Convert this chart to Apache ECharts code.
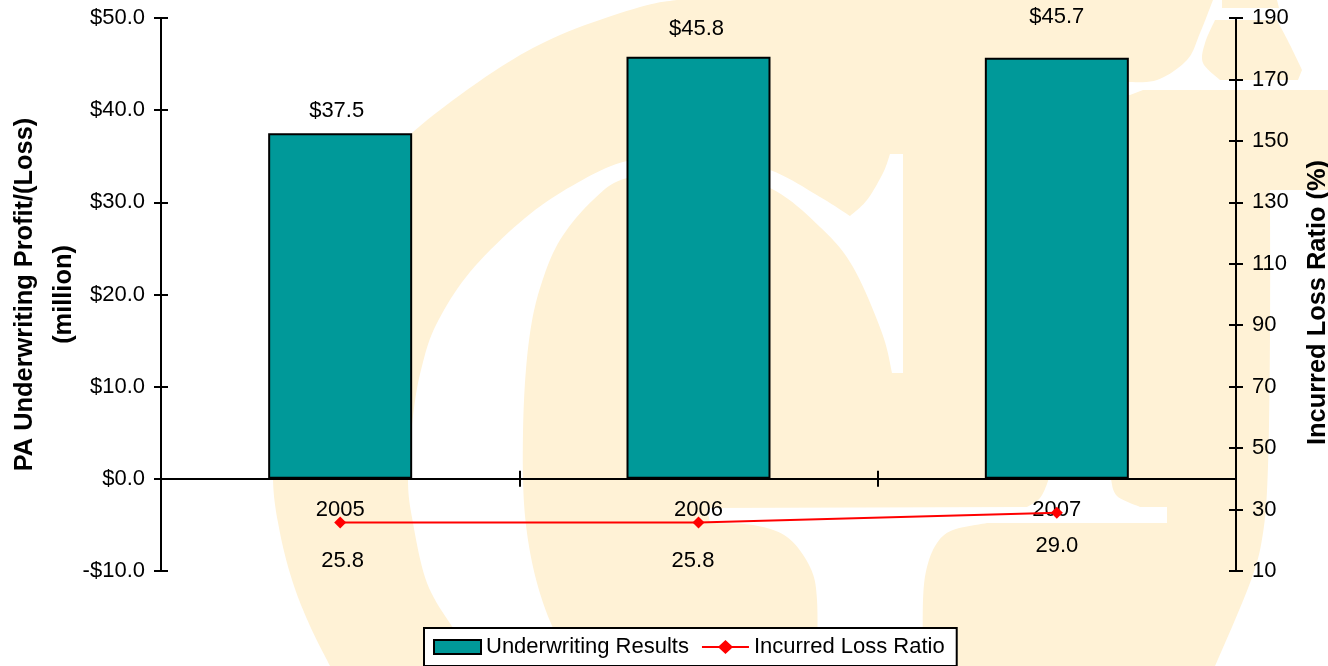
<!DOCTYPE html>
<html>
<head>
<meta charset="utf-8">
<title>PA Underwriting Results</title>
<script src="https://cdn.jsdelivr.net/npm/echarts@6/dist/echarts.min.js"></script>
<style>
  html, body { margin: 0; padding: 0; background: #fff; }
  #chart { width: 1328px; height: 666px; }
</style>
</head>
<body>
<div id="chart"></div>
<script>
// Data
const years = ['2005', '2006', '2007'];
const underwritingResults = [37.5, 45.8, 45.7];
const lossRatio = [25.8, 25.8, 29.0];
const leftTickLabels = ['-$10.0', '$0.0', '$10.0', '$20.0', '$30.0', '$40.0', '$50.0'];
const rightTicks = [10, 30, 50, 70, 90, 110, 130, 150, 170, 190];

// Hand placed data labels, as in the original [dx, dy]
const barLabelShift = [[-3.5, -6], [-2, -12], [0, -25]];
const lineLabelShift = [[2.5, 16], [-5.5, 16], [0, 11]];

const FONT = '"Liberation Sans", Arial, sans-serif';
const TEXT_SIZE = 22;
const WATERMARK = '#fff2d6';

// Catmull-Rom through the points, so the logo curves stay smooth
function arc(pts) {
  const out = [];
  for (let i = 0; i < pts.length - 1; i++) {
    const p0 = pts[Math.max(i - 1, 0)], p1 = pts[i], p2 = pts[i + 1], p3 = pts[Math.min(i + 2, pts.length - 1)];
    for (let k = 0; k < 10; k++) {
      const t = k / 10, t2 = t * t, t3 = t2 * t;
      out.push([0, 1].map(d => 0.5 * (2 * p1[d] + (p2[d] - p0[d]) * t +
        (2 * p0[d] - 5 * p1[d] + 4 * p2[d] - p3[d]) * t2 +
        (3 * p1[d] - p0[d] - 3 * p2[d] + p3[d]) * t3)));
    }
  }
  out.push(pts[pts.length - 1]);
  return out;
}

function logoPiece(points, fill, z) {
  return { type: 'polygon', silent: true, z: z, shape: { points: points }, style: { fill: fill } };
}

// Pale company logo behind the plot
const logoElements = [
  logoPiece([
    ...arc([[330, 666], [310, 626], [293, 583], [280, 533], [273, 479], [277, 400], [295, 320], [325, 250], [365, 185], [413, 132], [493, 72], [560, 35], [640, 7], [677, 0]]),
    [1328, 0], [1328, 190],
    ...arc([[1270, 190], [1270, 333], [1268, 466], [1263, 533], [1250, 583], [1215, 666]])
  ], WATERMARK, -9),
  logoPiece([
    ...arc([[480, 666], [453, 628], [427, 583], [413, 523], [408, 479], [413, 416], [421, 370], [436, 325], [470, 272], [525, 218], [577, 183], [627, 161], [700, 152], [770, 170], [820, 197], [850, 216]]),
    ...arc([[850, 216], [867, 200], [883, 173], [890, 154]]),
    [903, 154], [903, 373],
    ...arc([[892, 373], [882, 333], [853, 267], [820, 227], [770, 188], [700, 170], [627, 178], [593, 200], [560, 240], [541, 285], [530, 333], [524, 400], [523, 479], [527, 533], [537, 583], [553, 628], [575, 666]])
  ], '#fff', -8),
  logoPiece([
    ...arc([[1111, 470], [1111, 479], [1117, 496], [1140, 507]]),
    [1167, 507], [1167, 523],
    ...arc([[987, 523], [953, 530], [937, 543], [927, 567], [923, 600], [923, 666]]),
    ...arc([[817, 666], [817, 600], [810, 567], [787, 537], [753, 525], [710, 523]]),
    [707, 508],
    ...arc([[1027, 507], [1040, 498], [1048, 481], [1050, 470]])
  ], '#fff', -8),
  logoPiece([
    ...arc([[1213, 0], [1200, 33], [1187, 60], [1157, 80], [1125, 82]]),
    [1125, 95], [1130, 95], [1143, 90], [1328, 90], [1328, 0]
  ], '#fff', -8),
  logoPiece([
    ...arc([[1215, 20], [1205, 43], [1203, 63], [1220, 80]]),
    [1298, 80],
    ...arc([[1302, 70], [1290, 45], [1277, 20]])
  ], WATERMARK, -7),
  logoPiece([[1222, 0], [1277, 0], [1279, 8], [1222, 8]], WATERMARK, -7)
];

const chart = echarts.init(document.getElementById('chart'), null, { renderer: 'canvas' });

const textStyle = { fontFamily: FONT, fontSize: TEXT_SIZE, color: '#000' };
const axisLine = { show: true, onZero: false, lineStyle: { color: '#000', width: 2 } };
const tickStyle = { color: '#000', width: 2 };
const nameStyle = { fontFamily: FONT, fontSize: 25.4, fontWeight: 'bold', color: '#000' };

const option = {
  animation: false,
  backgroundColor: '#fff',
  textStyle: textStyle,
  graphic: { elements: logoElements },
  grid: { left: 161, right: 92, top: 18, bottom: 95, containLabel: false, outerBoundsMode: 'none' },
  legend: {
    left: 424,
    top: 628,
    orient: 'horizontal',
    padding: [8, 12, 8, 9],
    itemGap: 13,
    itemWidth: 47,
    itemHeight: 14,
    backgroundColor: '#fff',
    borderColor: '#000',
    borderWidth: 2,
    borderRadius: 0,
    textStyle: textStyle,
    data: [
      { name: 'Underwriting Results', icon: 'rect' },
      { name: 'Incurred Loss Ratio', icon: 'path://M0,6 L17,6 L23.5,0 L30,6 L47,6 L47,8 L30,8 L23.5,14 L17,8 L0,8 Z' }
    ]
  },
  xAxis: [
    {
      type: 'category',
      position: 'bottom',
      data: years,
      axisLine: { show: true, onZero: true, lineStyle: { color: '#000', width: 2 } },
      axisTick: { show: true, length: 8, lineStyle: tickStyle },
      // labels stay tied to the grid edge, pull them back up under the zero line
      axisLabel: Object.assign({}, textStyle, { margin: -72 }),
      splitLine: { show: false }
    },
    {
      // second pass of the ticks: the originals cross the axis line
      type: 'category',
      position: 'bottom',
      data: years,
      axisLine: { show: false, onZero: true },
      axisTick: { show: true, inside: true, length: 8, lineStyle: tickStyle },
      axisLabel: { show: false },
      splitLine: { show: false }
    }
  ],
  yAxis: [
    {
      type: 'value',
      position: 'left',
      min: -10,
      max: 50,
      interval: 10,
      name: 'PA Underwriting Profit/(Loss)\n(million)',
      nameLocation: 'middle',
      nameGap: 78,
      nameRotate: 90,
      nameMoveOverlap: false,
      nameTextStyle: Object.assign({}, nameStyle, { lineHeight: 39 }),
      axisLine: axisLine,
      axisTick: { show: true, length: 7, lineStyle: tickStyle },
      axisLabel: Object.assign({}, textStyle, { margin: 16, formatter: (v, i) => leftTickLabels[i] }),
      splitLine: { show: false }
    },
    {
      type: 'value',
      position: 'right',
      min: 10,
      max: 190,
      name: 'Incurred Loss Ratio (%)',
      nameLocation: 'middle',
      nameGap: 69,
      nameRotate: 90,
      nameMoveOverlap: false,
      nameTextStyle: Object.assign({}, nameStyle, { padding: [0, 16, 0, 0] }),
      axisLine: axisLine,
      axisTick: { show: true, length: 7, lineStyle: tickStyle, customValues: rightTicks },
      axisLabel: Object.assign({}, textStyle, { margin: 16, customValues: rightTicks }),
      splitLine: { show: false }
    },
    {
      type: 'value',
      position: 'left',
      min: -10,
      max: 50,
      interval: 10,
      axisLine: { show: false },
      axisTick: { show: true, inside: true, length: 7, lineStyle: tickStyle },
      axisLabel: { show: false },
      splitLine: { show: false }
    },
    {
      type: 'value',
      position: 'right',
      min: 10,
      max: 190,
      axisLine: { show: false },
      axisTick: { show: true, inside: true, length: 7, lineStyle: tickStyle, customValues: rightTicks },
      axisLabel: { show: false },
      splitLine: { show: false }
    }
  ],
  series: [
    {
      name: 'Underwriting Results',
      type: 'bar',
      xAxisIndex: 0,
      yAxisIndex: 0,
      barWidth: 144,
      itemStyle: { color: '#009999', borderColor: '#000', borderWidth: 2 },
      label: Object.assign({}, textStyle, {
        show: true,
        position: 'top',
        formatter: p => '$' + p.value.toFixed(1)
      }),
      data: underwritingResults.map((v, i) => ({ value: v, label: { offset: barLabelShift[i] } }))
    },
    {
      name: 'Incurred Loss Ratio',
      type: 'line',
      xAxisIndex: 0,
      yAxisIndex: 1,
      symbol: 'diamond',
      symbolSize: 12,
      lineStyle: { color: '#ff0000', width: 2 },
      itemStyle: { color: '#ff0000' },
      label: Object.assign({}, textStyle, {
        show: true,
        position: 'bottom',
        formatter: p => p.value.toFixed(1)
      }),
      data: lossRatio.map((v, i) => ({ value: v, label: { offset: lineLabelShift[i] } }))
    }
  ]
};

chart.setOption(option);
</script>
</body>
</html>
